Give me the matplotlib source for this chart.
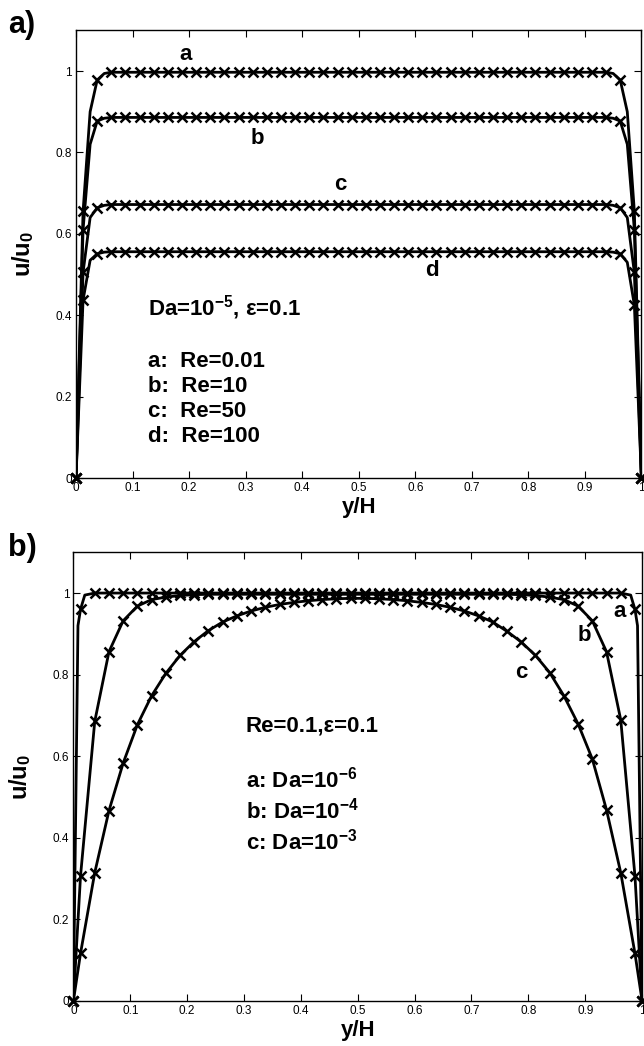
import matplotlib
matplotlib.use('Agg')
import matplotlib.pyplot as plt

plt.rcParams['font.family'] = ['Liberation Sans', 'DejaVu Sans']
plt.rcParams['mathtext.fontset'] = 'custom'
plt.rcParams['mathtext.rm'] = 'Liberation Sans:bold'
plt.rcParams['mathtext.it'] = 'Liberation Sans:bold'
plt.rcParams['mathtext.bf'] = 'Liberation Sans:bold'

# ─── DATA ─────────────────────────────────────────────────────────────────────
# marker positions: the two walls plus 40 cell centres
y_nodes = [0.0, 0.0125, 0.0375, 0.0625, 0.0875, 0.1125, 0.1375, 0.1625, 0.1875,
           0.2125, 0.2375, 0.2625, 0.2875, 0.3125, 0.3375, 0.3625, 0.3875,
           0.4125, 0.4375, 0.4625, 0.4875, 0.5125, 0.5375, 0.5625, 0.5875,
           0.6125, 0.6375, 0.6625, 0.6875, 0.7125, 0.7375, 0.7625, 0.7875,
           0.8125, 0.8375, 0.8625, 0.8875, 0.9125, 0.9375, 0.9625, 0.9875, 1.0]

# panel a) Da=1e-5, eps=0.1, four Reynolds numbers
re_labels = ['a', 'b', 'c', 'd']
re_mark_a = [0, 0.655, 0.978] + [0.997] * 36 + [0.978, 0.655, 0]
re_mark_b = [0, 0.610, 0.877] + [0.886] * 36 + [0.877, 0.610, 0]
re_mark_c = [0, 0.505, 0.664] + [0.672] * 36 + [0.664, 0.505, 0]
re_mark_d = [0, 0.437, 0.551] + [0.556] * 36 + [0.551, 0.425, 0]

y_line_a = [0, 0.0125, 0.025, 0.0375, 0.05, 0.0625, 0.5,
            0.9375, 0.95, 0.9625, 0.975, 0.9875, 1.0]
re_line_a = [0, 0.655, 0.900, 0.978, 0.994, 0.997, 0.997, 0.997, 0.994, 0.978, 0.900, 0.655, 0]
re_line_b = [0, 0.610, 0.820, 0.877, 0.884, 0.886, 0.886, 0.886, 0.884, 0.877, 0.820, 0.610, 0]
re_line_c = [0, 0.505, 0.640, 0.664, 0.670, 0.672, 0.672, 0.672, 0.670, 0.664, 0.640, 0.505, 0]
re_line_d = [0, 0.437, 0.535, 0.551, 0.555, 0.556, 0.556, 0.556, 0.555, 0.551, 0.530, 0.425, 0]

# panel b) Re=0.1, eps=0.1, three Darcy numbers
da_mark_a = [0, 0.960] + [1.0] * 38 + [0.960, 0]
da_mark_b = ([0, 0.306, 0.685, 0.856, 0.932, 0.968, 0.984, 0.990, 0.994, 0.996]
             + [0.997] * 22
             + [0.996, 0.994, 0.990, 0.984, 0.968, 0.932, 0.856, 0.689, 0.306, 0])
da_mark_c = [0, 0.116, 0.314, 0.466, 0.583, 0.677, 0.748, 0.803, 0.847, 0.881,
             0.908, 0.929, 0.944, 0.956, 0.965, 0.972, 0.977, 0.981, 0.984, 0.986,
             0.987, 0.987, 0.986, 0.984, 0.981, 0.977, 0.972, 0.965, 0.956, 0.944,
             0.929, 0.906, 0.880, 0.847, 0.805, 0.748, 0.679, 0.593, 0.468, 0.314,
             0.116, 0]

y_line_da_a = [0, 0.008, 0.0125, 0.02, 0.0375, 0.9625, 0.98, 0.9875, 0.992, 1.0]
da_line_a = [0, 0.92, 0.96, 0.995, 1.0, 1.0, 0.995, 0.96, 0.92, 0]

x_ticks = [0, 0.1, 0.2, 0.3, 0.4, 0.5, 0.6, 0.7, 0.8, 0.9, 1]
x_ticklabels = ['0', '0.1', '0.2', '0.3', '0.4', '0.5', '0.6', '0.7', '0.8', '0.9', '1']
u_ticks = [0, 0.2, 0.4, 0.6, 0.8, 1]
u_ticklabels = ['0', '0.2', '0.4', '0.6', '0.8', '1']

LINE = dict(color='black', lw=2.0)
MARK = dict(color='black', ls='none', marker='x', ms=7, mew=1.8, clip_on=False, zorder=3)


def style_axes(ax):
    ax.set_xlim(0, 1)
    ax.set_ylim(0, 1.1)
    ax.set_xticks(x_ticks)
    ax.set_xticklabels(x_ticklabels)
    ax.set_yticks(u_ticks)
    ax.set_yticklabels(u_ticklabels)
    ax.tick_params(direction='in', top=True, right=True, length=5, width=0.8,
                   labelsize=8.5, pad=3)
    for sp in ax.spines.values():
        sp.set_linewidth(1.0)
    ax.set_xlabel('y/H', fontsize=16, fontweight='bold', labelpad=2)
    ax.set_ylabel(r'u/u$_0$', fontsize=17, fontweight='bold', labelpad=14)


fig = plt.figure(figsize=(6.44, 10.46), dpi=100)

# ─── PANEL a) ─────────────────────────────────────────────────────────────────
ax1 = fig.add_axes([0.118, 0.543, 0.878, 0.428])
for line, mark in [(re_line_a, re_mark_a), (re_line_b, re_mark_b),
                   (re_line_c, re_mark_c), (re_line_d, re_mark_d)]:
    ax1.plot(y_line_a, line, **LINE)
    ax1.plot(y_nodes, mark, **MARK)
style_axes(ax1)

for lab, (x, u) in zip(re_labels, [(0.193, 1.04), (0.32, 0.835),
                                   (0.467, 0.72), (0.63, 0.51)]):
    ax1.text(x, u, lab, fontsize=16, fontweight='bold', ha='center', va='center')

ax1.text(0.127, 0.455,
         'Da=10$^{-5}$, \u03b5=0.1\n\n'
         'a:  Re=0.01\nb:  Re=10\nc:  Re=50\nd:  Re=100',
         fontsize=16, fontweight='bold', ha='left', va='top', linespacing=1.25)

fig.text(0.012, 0.99, 'a)', fontsize=22, fontweight='bold', ha='left', va='top')

# ─── PANEL b) ─────────────────────────────────────────────────────────────────
ax2 = fig.add_axes([0.114, 0.0433, 0.883, 0.4287])
ax2.plot(y_line_da_a, da_line_a, **LINE)
ax2.plot(y_nodes, da_mark_a, **MARK)
ax2.plot(y_nodes, da_mark_b, **LINE)
ax2.plot(y_nodes, da_mark_b, **MARK)
ax2.plot(y_nodes, da_mark_c, **LINE)
ax2.plot(y_nodes, da_mark_c, **MARK)
style_axes(ax2)

for lab, (x, u) in zip(['a', 'b', 'c'], [(0.96, 0.955), (0.898, 0.897), (0.787, 0.806)]):
    ax2.text(x, u, lab, fontsize=16, fontweight='bold', ha='center', va='center')

ax2.text(0.303, 0.70,
         'Re=0.1,\u03b5=0.1\n\n'
         'a: Da=10$^{-6}$\nb: Da=10$^{-4}$\nc: Da=10$^{-3}$',
         fontsize=16, fontweight='bold', ha='left', va='top', linespacing=1.25)

fig.text(0.012, 0.49, 'b)', fontsize=22, fontweight='bold', ha='left', va='top')

fig.savefig('out.png', dpi=100)
